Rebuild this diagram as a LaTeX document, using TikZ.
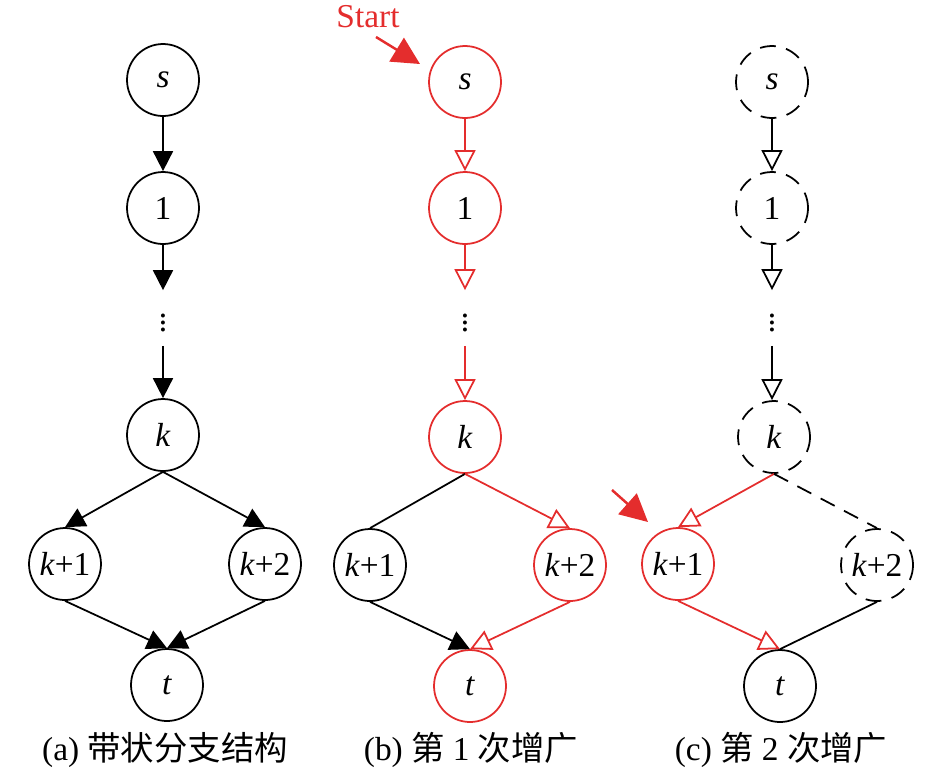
\documentclass[tikz,border=0pt]{standalone}
\usepackage{fontspec}
\setmainfont{Liberation Serif}
\newfontfamily\cjk{Noto Sans CJK SC}
\usetikzlibrary{arrows.meta}
\definecolor{augred}{RGB}{228,45,45}

\tikzset{
  vtx/.style={circle,draw,line width=1pt,minimum size=1.44cm,inner sep=0pt},
  dvtx/.style={vtx,dash pattern=on 9pt off 6pt},
  rvtx/.style={vtx,draw=augred},
  edge/.style={line width=1pt},
  fwd/.style={edge,-{Triangle[length=0.4cm,width=0.4cm]}},
  ofwd/.style={edge,-{Triangle[open,length=0.42cm,width=0.42cm]}},
  dots/.style={minimum height=1.1cm,inner sep=0pt},
  hint/.style={draw=augred,line width=1.4pt,-{Triangle[length=0.55cm,width=0.55cm]}}
}

\begin{document}
\begin{tikzpicture}[x=0.02cm,y=-0.02cm,font=\fontsize{19}{22}\selectfont]
\useasboundingbox (0,0) rectangle (945,775);
% (a)
\node[vtx] (as) at (163,80) {\textit{s}};
\node[vtx] (a1) at (163,208) {1};
\node[dots] (ad) at (163,318) {$\vdots$};
\node[vtx] (ak) at (163,435) {\textit{k}};
\node[vtx] (ak1) at (65,564) {\textit{k}+1};
\node[vtx] (ak2) at (265,564) {\textit{k}+2};
\node[vtx] (at) at (167,685) {\textit{t}};
\draw[fwd] (as) -- (a1);
\draw[fwd] (a1) -- (ad.north);
\draw[fwd] (ad.south) -- (ak);
\draw[fwd] (ak.south) -- (ak1.north);
\draw[fwd] (ak.south) -- (ak2.north);
\draw[fwd] (ak1.south) -- (at.north);
\draw[fwd] (ak2.south) -- (at.north);
% (b)
\node[rvtx,text=black] (bs) at (465,82) {\textit{s}};
\node[rvtx,text=black] (b1) at (465,208) {1};
\node[dots] (bd) at (465,318) {$\vdots$};
\node[rvtx,text=black] (bk) at (465,437) {\textit{k}};
\node[vtx] (bk1) at (370,565) {\textit{k}+1};
\node[rvtx,text=black] (bk2) at (570,565) {\textit{k}+2};
\node[rvtx,text=black] (bt) at (470,686) {\textit{t}};
\draw[ofwd,augred] (bs) -- (b1);
\draw[ofwd,augred] (b1) -- (bd.north);
\draw[ofwd,augred] (bd.south) -- (bk);
\draw[edge] (bk.south) -- (bk1.north);
\draw[ofwd,augred] (bk.south) -- (bk2.north);
\draw[fwd] (bk1.south) -- (bt.north);
\draw[ofwd,augred] (bk2.south) -- (bt.north);
\node[text=augred] (start) at (368,17) {Start};
\coordinate (st) at (376,37);
\coordinate (sh) at (420,64);
\draw[hint] (st) -- (sh);
% (c)
\node[dvtx] (cs) at (772,82) {\textit{s}};
\node[dvtx] (c1) at (772,208) {1};
\node[dots] (cd) at (772,318) {$\vdots$};
\node[dvtx] (ck) at (774,437) {\textit{k}};
\node[rvtx,text=black] (ck1) at (678,564) {\textit{k}+1};
\node[dvtx] (ck2) at (877,565) {\textit{k}+2};
\node[vtx] (ct) at (780,686) {\textit{t}};
\draw[ofwd] (cs) -- (c1);
\draw[ofwd] (c1) -- (cd.north);
\draw[ofwd] (cd.south) -- (cd.south |- ck.north);
\draw[ofwd,augred] (ck.south) -- (ck1.north);
\draw[edge,dash pattern=on 9pt off 6pt] (ck.south) -- (ck2.north);
\draw[ofwd,augred] (ck1.south) -- (ct.north);
\draw[edge] (ck2.south) -- (ct.north);
\coordinate (ct0) at (612,490);
\coordinate (ch) at (648,522);
\draw[hint] (ct0) -- (ch);
% Captions
\node (capa) at (165,750) {(a) {\cjk 带状分支结构}};
\node (capb) at (471,750) {(b) {\cjk 第} 1 {\cjk 次增广}};
\node (capc) at (781,750) {(c) {\cjk 第} 2 {\cjk 次增广}};
\end{tikzpicture}
\end{document}
